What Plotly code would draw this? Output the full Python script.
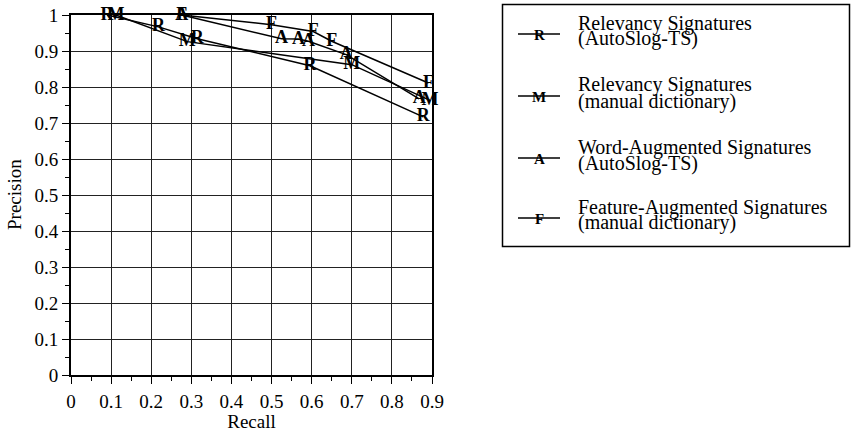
import plotly.graph_objects as go

# ---- data (recall, precision) ----
r_auto_recall = [0.090, 0.218, 0.315, 0.596, 0.878]
r_auto_prec = [1.000, 0.967, 0.934, 0.859, 0.717]

r_man_recall = [0.112, 0.290, 0.700, 0.895]
r_man_prec = [1.000, 0.926, 0.862, 0.763]

wa_recall = [0.276, 0.525, 0.567, 0.592, 0.686, 0.868]
wa_prec = [1.000, 0.934, 0.933, 0.927, 0.890, 0.767]

fa_recall = [0.276, 0.500, 0.604, 0.650, 0.891]
fa_prec = [1.000, 0.973, 0.954, 0.927, 0.811]

series_names = [
    ("Relevancy Signatures", "(AutoSlog-TS)"),
    ("Relevancy Signatures", "(manual dictionary)"),
    ("Word-Augmented Signatures", "(AutoSlog-TS)"),
    ("Feature-Augmented Signatures", "(manual dictionary)"),
]
series_letters = ["R", "M", "A", "F"]

x_ticks = [0, 0.1, 0.2, 0.3, 0.4, 0.5, 0.6, 0.7, 0.8, 0.9]
y_ticks = [0, 0.1, 0.2, 0.3, 0.4, 0.5, 0.6, 0.7, 0.8, 0.9, 1]

x_title = "Recall"
y_title = "Precision"

FONT = "Liberation Serif"
FS = 19
LFS = 20

fig = go.Figure()
data = [
    (r_auto_recall, r_auto_prec),
    (r_man_recall, r_man_prec),
    (wa_recall, wa_prec),
    (fa_recall, fa_prec),
]
for (xs, ys), letter, names in zip(data, series_letters, series_names):
    fig.add_trace(go.Scatter(
        x=xs, y=ys, mode="lines+text",
        text=[letter] * len(xs), textposition="middle center",
        textfont=dict(family=FONT, size=18, color="black", weight="bold"),
        line=dict(color="black", width=1.5),
        name=" ".join(names), showlegend=False, cliponaxis=False,
    ))

# plot area in pixels: x 71..432, y 15..375
L, R, T, B = 71, 432, 15, 375
W, H = 860, 432


def px2paper_x(px):
    return (px - L) / (R - L)


def px2paper_y(py):
    return (B - py) / (B - T)


shapes = []
annotations = []
# legend box
shapes.append(dict(type="rect", xref="paper", yref="paper",
                   x0=px2paper_x(502.5), x1=px2paper_x(849.5),
                   y0=px2paper_y(246.5), y1=px2paper_y(4.5),
                   line=dict(color="black", width=1.5), fillcolor="rgba(0,0,0,0)"))
sym_y = [34, 96, 158, 218]
for letter, names, sy in zip(series_letters, series_names, sym_y):
    shapes.append(dict(type="line", xref="paper", yref="paper",
                       x0=px2paper_x(518), x1=px2paper_x(560),
                       y0=px2paper_y(sy), y1=px2paper_y(sy),
                       line=dict(color="black", width=1.5)))
    annotations.append(dict(xref="paper", yref="paper",
                            x=px2paper_x(539), y=px2paper_y(sy + 1),
                            text=letter, showarrow=False,
                            font=dict(family=FONT, size=15, color="black", weight="bold"),
                            xanchor="center", yanchor="middle"))
    for i, line in enumerate(names):
        annotations.append(dict(xref="paper", yref="paper",
                                x=px2paper_x(576), y=px2paper_y(sy - 11 + i * 16),
                                text=line, showarrow=False,
                                font=dict(family=FONT, size=LFS, color="black"),
                                xanchor="left", yanchor="middle"))

# y-axis title
annotations.append(dict(xref="paper", yref="paper",
                        x=px2paper_x(14), y=0.5, text=y_title, showarrow=False,
                        textangle=-90, font=dict(family=FONT, size=FS, color="black"),
                        xanchor="center", yanchor="middle"))

axis_common = dict(
    showline=True, linecolor="black", linewidth=2, mirror=True,
    showgrid=True, gridcolor="#222", gridwidth=1,
    ticks="outside", ticklen=7, tickwidth=1, tickcolor="black",
    zeroline=False, automargin=False,
    tickfont=dict(family=FONT, size=FS, color="black"),
    minor=dict(ticks="outside", ticklen=4, tickwidth=1, tickcolor="black", showgrid=False),
)

fig.update_layout(
    template="none",
    width=W, height=H,
    margin=dict(l=L, r=W - R, t=T, b=H - B, autoexpand=False),
    paper_bgcolor="white", plot_bgcolor="white",
    font=dict(family=FONT, size=FS, color="black"),
    xaxis=dict(range=[0, 0.9], tickvals=x_ticks, ticktext=[str(v) for v in x_ticks],
               minor_dtick=0.05, ticklabelstandoff=1,
               title=dict(text=x_title, font=dict(family=FONT, size=FS), standoff=0),
               **axis_common),
    yaxis=dict(range=[0, 1], tickvals=y_ticks, ticktext=[str(v) for v in y_ticks],
               minor_dtick=0.05, ticklabelstandoff=0,
               **axis_common),
    shapes=shapes, annotations=annotations,
    showlegend=False,
)

fig.write_html("out.html")
